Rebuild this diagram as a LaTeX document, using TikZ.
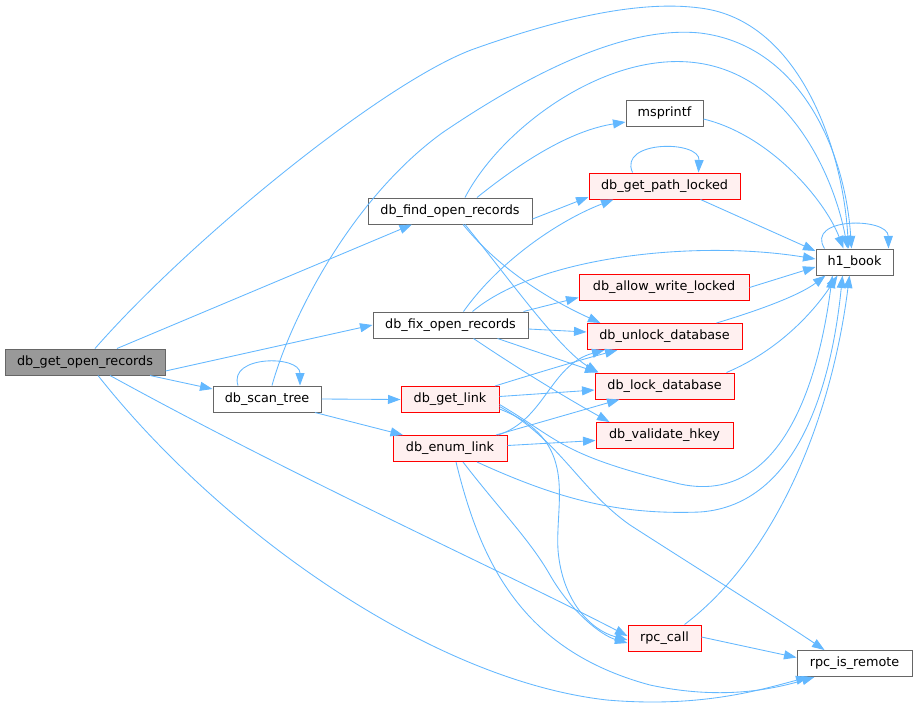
\documentclass[tikz,border=0pt]{standalone}
\usepackage{fontspec}
\setmainfont{DejaVu Sans}
\usetikzlibrary{arrows.meta}
\definecolor{eb}{HTML}{63B8FF}
\definecolor{rfill}{HTML}{FFF0F0}
\definecolor{gborder}{HTML}{666666}
\definecolor{rootfill}{HTML}{999999}
\definecolor{rborder}{HTML}{FF0000}
\tikzset{
  fn/.style={draw=gborder, fill=white, line width=1pt, minimum height=26pt, inner sep=0pt,
    font=\fontsize{12.8}{15}\selectfont},
  redfn/.style={fn, draw=rborder, fill=rfill},
  rootfn/.style={fn, fill=rootfill},
  e/.style={draw=eb, line width=0.85pt, -{Triangle[length=12.5pt,width=9pt]}}
}
\begin{document}
\begin{tikzpicture}[x=1pt,y=-1pt]
\fill[white] (0,0) rectangle (917,710);
\useasboundingbox (0,0) rectangle (917,710);
% nodes
\node[rootfn, minimum width=160pt] (root) at (85,362) {db\_get\_open\_records};
\node[fn, minimum width=108pt] (scan) at (267,399) {db\_scan\_tree};
\node[fn, minimum width=164pt] (find) at (450,211) {db\_find\_open\_records};
\node[fn, minimum width=77pt] (msp) at (664.5,113) {msprintf};
\node[redfn, minimum width=151pt] (gpl) at (664.5,186) {db\_get\_path\_locked};
\node[fn, minimum width=155pt] (fix) at (450.5,325) {db\_fix\_open\_records};
\node[redfn, minimum width=170pt] (awl) at (664,287.5) {db\_allow\_write\_locked};
\node[redfn, minimum width=155pt] (unl) at (664.5,336.5) {db\_unlock\_database};
\node[redfn, minimum width=139pt] (lck) at (664.5,386) {db\_lock\_database};
\node[redfn, minimum width=137pt] (vh) at (664.5,435.5) {db\_validate\_hkey};
\node[redfn, minimum width=98pt] (gl) at (450,399.5) {db\_get\_link};
\node[redfn, minimum width=114pt] (enl) at (450,448.5) {db\_enum\_link};
\node[redfn, minimum width=73pt] (rpc) at (664.5,638) {rpc\_call};
\node[fn, minimum width=115pt] (rir) at (854.5,663.5) {rpc\_is\_remote};
\node[fn, minimum width=77pt] (h1) at (854.5,262) {h1\_book};
% root edges
\draw[e] ([xshift=10pt]root.north) .. controls (190,240) and (380,85) .. (471,50) .. controls (560,18) and (640,0) .. (700,8) .. controls (800,20) and (843,150) .. ([xshift=-6pt]h1.north);
\draw[e] ([xshift=32pt]root.north) -- ([xshift=-38pt]find.south);
\draw[e] ([yshift=-9pt]root.east) -- (fix.west);
\draw[e] ([xshift=65pt]root.south) -- ([yshift=10pt]scan.west);
\draw[e] ([xshift=25pt]root.south) .. controls (300,480) and (500,570) .. ([yshift=2pt]rpc.west);
\draw[e] ([xshift=13pt]root.south) .. controls (220,530) and (430,680) .. (607,700) .. controls (700,708) and (760,690) .. ([xshift=-46pt]rir.south);
% scan
\draw[e] ([xshift=-29pt]scan.north) .. controls (228,355) and (300,355) .. ([xshift=33pt]scan.north);
\draw[e] ([xshift=5pt]scan.north) .. controls (290,320) and (350,200) .. (442,133) .. controls (520,80) and (620,25) .. (700,33) .. controls (800,45) and (845,150) .. ([xshift=-3pt]h1.north);
\draw[e] (scan.east) -- (gl.west);
\draw[e] ([xshift=48pt]scan.south) -- ([xshift=-47pt]enl.north);
% find
\draw[e] ([xshift=15pt]find.north) .. controls (500,130) and (600,55) .. (689,62) .. controls (790,70) and (835,180) .. ([xshift=-7pt]h1.north);
\draw[e] ([xshift=27pt]find.north) .. controls (530,155) and (575,130) .. ([yshift=-9pt]msp.west);
\draw[e] ([yshift=-8pt]find.east) -- ([yshift=-11pt]gpl.west);
\draw[e] ([xshift=13pt]find.south) .. controls (500,270) and (550,300) .. ([xshift=-64pt]unl.north);
\draw[e] ([xshift=15pt]find.south) .. controls (510,280) and (560,350) .. ([xshift=-66pt]lck.north);
% fix
\draw[e] ([xshift=22pt]fix.north) .. controls (540,255) and (700,240) .. ([yshift=3pt]h1.west);
\draw[e] ([xshift=13pt]fix.north) .. controls (500,260) and (560,220) .. ([xshift=-51pt]gpl.south);
\draw[e] ([xshift=73pt]fix.north) -- ([yshift=-10pt]awl.west);
\draw[e] ([yshift=-4pt]fix.east) -- ([yshift=4.5pt]unl.west);
\draw[e] ([xshift=47pt]fix.south) -- ([xshift=-67pt]lck.north);
\draw[e] ([xshift=23pt]fix.south) .. controls (520,370) and (570,400) .. ([xshift=-55pt]vh.north);
% get_link
\draw[e] ([xshift=45pt]gl.north) .. controls (540,372) and (580,360) .. ([xshift=-47pt]unl.south);
\draw[e] ([yshift=3pt]gl.east) -- ([yshift=-4pt]lck.west);
\draw[e] ([yshift=-5pt]gl.east) .. controls (560,440) and (560,455) .. (680,484) .. controls (800,510) and (825,330) .. ([xshift=-22pt]h1.south);
\draw[e] ([yshift=-9.5pt]gl.east) .. controls (580,440) and (555,500) .. (558,550) .. controls (562,600) and (590,630) .. ([yshift=-2pt]rpc.west);
\draw[e] ([yshift=-7pt]gl.east) .. controls (560,440) and (580,490) .. (630,525) .. controls (700,570) and (780,620) .. ([xshift=-30pt]rir.north);
% enum_link
\draw[e] ([xshift=48pt]enl.north) .. controls (545,420) and (550,365) .. ([xshift=-60pt]unl.south);
\draw[e] ([xshift=46pt]enl.north) -- ([xshift=-45pt]lck.south);
\draw[e] ([yshift=3pt]enl.east) -- ([yshift=-5pt]vh.west);
\draw[e] ([xshift=27pt]enl.south) .. controls (560,500) and (620,515) .. (700,512) .. controls (800,505) and (832,380) .. ([xshift=-12pt]h1.south);
\draw[e] ([xshift=13pt]enl.south) .. controls (500,510) and (530,540) .. (550,575) .. controls (570,610) and (600,635) .. ([yshift=-5pt]rpc.west);
\draw[e] ([xshift=6pt]enl.south) .. controls (480,560) and (520,650) .. (650,685) .. controls (720,700) and (770,690) .. ([xshift=-40pt]rir.south);
% right column
\draw[e] ([yshift=-6pt]msp.east) .. controls (770,135) and (825,200) .. ([xshift=-11pt]h1.north);
\draw[e] ([xshift=-32pt]gpl.north) .. controls (618,140) and (700,140) .. ([xshift=34pt]gpl.north);
\draw[e] ([xshift=36pt]gpl.south) -- ([yshift=11pt]h1.west);
\draw[e] (awl.east) -- ([yshift=-5pt]h1.west);
\draw[e] ([xshift=52pt]unl.north) .. controls (760,310) and (800,295) .. ([xshift=-29pt]h1.south);
\draw[e] ([xshift=62pt]lck.north) .. controls (780,350) and (815,310) .. ([xshift=-17pt]h1.south);
\draw[e] ([xshift=20pt]rpc.north) .. controls (770,560) and (830,430) .. ([xshift=-5pt]h1.south);
\draw[e] ([yshift=1pt]rpc.east) -- ([yshift=6pt]rir.west);
\draw[e] ([xshift=-30pt]h1.north) .. controls (805,217) and (888,217) .. ([xshift=34pt]h1.north);
\end{tikzpicture}
\end{document}
